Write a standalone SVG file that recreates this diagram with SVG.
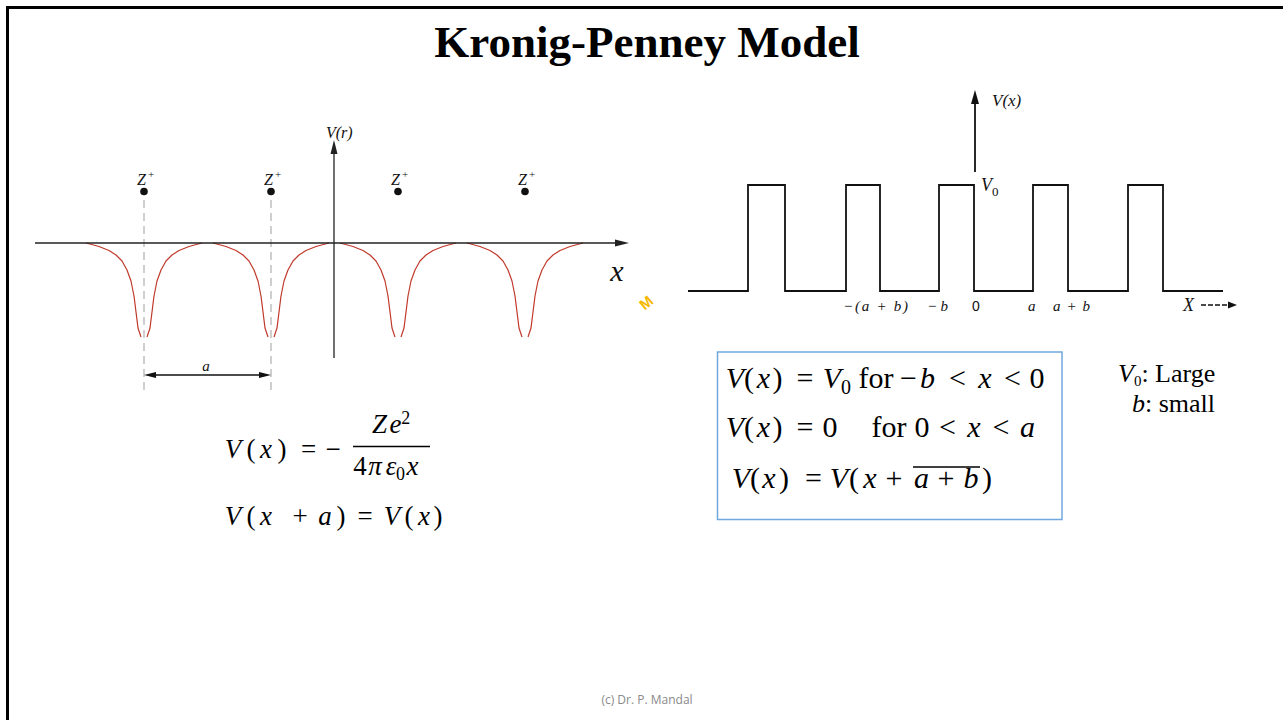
<svg xmlns="http://www.w3.org/2000/svg" width="1283" height="720" viewBox="0 0 1283 720">
<style>
.eq{fill:#000;text-anchor:middle}
.i{font-style:italic}
.lbl{font-style:italic;fill:#111}
.ax{stroke:#222;stroke-width:1.3;fill:none}
.well{stroke:#c0392b;stroke-width:1.2;fill:none;stroke-linejoin:round}
.dash{stroke:#a8a8a8;stroke-width:1.1;stroke-dasharray:8,5;fill:none}
.sq{stroke:#111;stroke-width:1.8;fill:none}
</style>
<defs>
<path id="well" d="M-58,0 L-45,3.5 L-35,7.5 L-28,12 L-22,18 L-17,27 L-13,38 L-10,53 L-8,69 L-6,85 L-3,94 M3,94 L6,85 L8,69 L10,53 L13,38 L17,27 L22,18 L28,12 L35,7.5 L45,3.5 L58,0"/>
</defs>
<rect width="1283" height="720" fill="#fff"/>
<path d="M7.5,720 V7.5 H1283" fill="none" stroke="#000" stroke-width="3"/>
<text x="647" y="57" font-family="'Liberation Serif',serif" font-weight="bold" font-size="45" text-anchor="middle">Kronig-Penney Model</text>

<g id="coulomb-plot" font-family="'Liberation Serif','DejaVu Serif',serif">
<g id="wells">
<use href="#well" x="144" y="243" class="well"/>
<use href="#well" x="271" y="243" class="well"/>
<use href="#well" x="398" y="243" class="well"/>
<use href="#well" x="525" y="243" class="well"/>
</g>
<line x1="144" y1="200" x2="144" y2="390" class="dash"/>
<line x1="271" y1="200" x2="271" y2="390" class="dash"/>
<path d="M35,243 H620" class="ax"/>
<polygon points="629,243 615,239.5 615,246.5" fill="#222"/>
<path d="M334,358 V150" class="ax"/>
<polygon points="334,140 330.5,154 337.5,154" fill="#222"/>
<text x="326" y="138" class="lbl" font-size="16" fill="#444">V(r)</text>
<text x="617" y="281" class="lbl" font-size="30" text-anchor="middle">x</text>
<g id="ions" fill="#111">
<circle cx="144" cy="191.5" r="3.8"/><circle cx="271" cy="191.5" r="3.8"/><circle cx="398" cy="191.5" r="3.8"/><circle cx="525" cy="191.5" r="3.8"/>
<text x="137" y="185" class="lbl" font-size="16">Z<tspan font-size="11" dx="2" dy="-7" font-style="normal">+</tspan></text>
<text x="264" y="185" class="lbl" font-size="16">Z<tspan font-size="11" dx="2" dy="-7" font-style="normal">+</tspan></text>
<text x="391" y="185" class="lbl" font-size="16">Z<tspan font-size="11" dx="2" dy="-7" font-style="normal">+</tspan></text>
<text x="518" y="185" class="lbl" font-size="16">Z<tspan font-size="11" dx="2" dy="-7" font-style="normal">+</tspan></text>
</g>
<g id="dim-a">
<line x1="150" y1="375" x2="265" y2="375" stroke="#111" stroke-width="1.3"/>
<polygon points="144,375 156,372 156,378" fill="#111"/>
<polygon points="271,375 259,372 259,378" fill="#111"/>
<text x="206" y="371" class="lbl" font-size="15" text-anchor="middle">a</text>
</g>
<text x="638" y="308" font-family="'Liberation Sans',sans-serif" font-weight="bold" font-size="15" fill="#f5b800" transform="rotate(-40 645 300)">M</text>
</g>

<g id="coulomb-eq" font-family="'Liberation Serif','DejaVu Serif',serif">
<text class="eq" font-size="27">
<tspan x="233" y="458" class="i">V</tspan><tspan x="251">(</tspan><tspan x="266" class="i">x</tspan><tspan x="282">)</tspan><tspan x="308.5">=</tspan><tspan x="336.5">−</tspan>
<tspan x="379.5" y="433" class="i">Z</tspan><tspan x="395.5" class="i">e</tspan><tspan x="409" y="424" font-size="18">2</tspan>
<tspan x="360" y="475">4</tspan><tspan x="375" class="i">π</tspan><tspan x="391" class="i">ε</tspan><tspan x="400.5" y="480" font-size="18">0</tspan><tspan x="412.5" y="475" class="i">x</tspan>
</text>
<line x1="353" y1="446.5" x2="430" y2="446.5" stroke="#000" stroke-width="1.3"/>
<text class="eq" font-size="27">
<tspan x="233" y="525" class="i">V</tspan><tspan x="251">(</tspan><tspan x="266" class="i">x</tspan><tspan x="300">+</tspan><tspan x="325" class="i">a</tspan><tspan x="341">)</tspan><tspan x="365">=</tspan><tspan x="392" class="i">V</tspan><tspan x="409">(</tspan><tspan x="424" class="i">x</tspan><tspan x="438">)</tspan>
</text>
</g>

<g id="square-plot" font-family="'Liberation Serif','DejaVu Serif',serif">
<path class="sq" d="M688,291 H748 V185 H785 V291 H846 V185 H880 V291 H939 V185 H974 V291 H1033 V185 H1068 V291 H1128 V185 H1163 V291 H1223"/>
<line x1="975" y1="172" x2="975" y2="100" stroke="#111" stroke-width="1.8"/>
<polygon points="975,90 971,104 979,104" fill="#111"/>
<text x="992" y="106" class="lbl" font-size="17">V(x)</text>
<text x="981" y="191" class="lbl" font-size="18">V<tspan font-size="13" dy="5" font-style="normal">0</tspan></text>
<g class="lbl" font-size="15">
<text x="843" y="311" textLength="65" lengthAdjust="spacing">−(a + b)</text>
<text x="927" y="311" textLength="21" lengthAdjust="spacing">−b</text>
<text x="972" y="311" font-style="normal" font-family="'Liberation Sans',sans-serif" font-size="14">0</text>
<text x="1028" y="311">a</text>
<text x="1053" y="311" textLength="37" lengthAdjust="spacing">a + b</text>
<text x="1183" y="311" font-size="18">X</text>
</g>
<line x1="1201" y1="305" x2="1230" y2="305" stroke="#111" stroke-width="1.3" stroke-dasharray="5,2"/>
<polygon points="1237,305 1228,301.5 1228,308.5" fill="#111"/>
</g>

<g id="kp-box" font-family="'Liberation Serif','DejaVu Serif',serif">
<rect x="717.5" y="352" width="344.5" height="167.5" fill="none" stroke="#6fa8dc" stroke-width="1.5"/>
<text class="eq" font-size="30">
<tspan x="735" y="388" class="i">V</tspan><tspan x="749">(</tspan><tspan x="763.5" class="i">x</tspan><tspan x="777.5">)</tspan><tspan x="805">=</tspan><tspan x="832" class="i">V</tspan><tspan x="846" y="394" font-size="20">0</tspan><tspan x="876" y="388">for</tspan><tspan x="908.5">−</tspan><tspan x="927.5" class="i">b</tspan><tspan x="957.5">&lt;</tspan><tspan x="985" class="i">x</tspan><tspan x="1012.5">&lt;</tspan><tspan x="1037">0</tspan>
</text>
<text class="eq" font-size="30">
<tspan x="735" y="437" class="i">V</tspan><tspan x="749">(</tspan><tspan x="763.5" class="i">x</tspan><tspan x="777.5">)</tspan><tspan x="805">=</tspan><tspan x="830">0</tspan><tspan x="889">for</tspan><tspan x="922">0</tspan><tspan x="947.5">&lt;</tspan><tspan x="974" class="i">x</tspan><tspan x="1001">&lt;</tspan><tspan x="1027.5" class="i">a</tspan>
</text>
<text class="eq" font-size="30">
<tspan x="741" y="488" class="i">V</tspan><tspan x="755">(</tspan><tspan x="769" class="i">x</tspan><tspan x="784">)</tspan><tspan x="813.5">=</tspan><tspan x="839" class="i">V</tspan><tspan x="854">(</tspan><tspan x="870" class="i">x</tspan><tspan x="894">+</tspan><tspan x="921.5" class="i">a</tspan><tspan x="946">+</tspan><tspan x="971" class="i">b</tspan><tspan x="987">)</tspan>
</text>
<line x1="913" y1="467" x2="980" y2="467" stroke="#000" stroke-width="1.3"/>
</g>

<g id="notes" font-family="'Liberation Serif',serif" font-size="26" fill="#000">
<text x="1118" y="382"><tspan font-style="italic">V</tspan><tspan y="386" font-size="15">0</tspan><tspan y="382">: Large</tspan></text>
<text x="1132" y="412"><tspan font-style="italic">b</tspan>: small</text>
</g>

<text x="647" y="704" font-family="'Open Sans','Liberation Sans',sans-serif" font-size="12" fill="#8a8a8a" text-anchor="middle">(c) Dr. P. Mandal</text>
</svg>
